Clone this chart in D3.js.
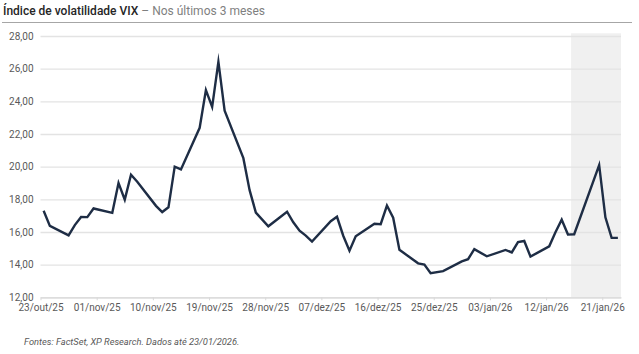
<!DOCTYPE html>
<html><head><meta charset="utf-8">
<script src="https://cdn.jsdelivr.net/npm/d3@7"></script>
<style>
html,body{margin:0;padding:0;background:#fff;}
svg{display:block;font-family:Roboto,"Noto Sans",sans-serif;}
</style></head>
<body><svg id="c" width="639" height="354"></svg>
<script>
const dates = ["2025-10-23","2025-10-24","2025-10-27","2025-10-28","2025-10-29","2025-10-30","2025-10-31",
"2025-11-03","2025-11-04","2025-11-05","2025-11-06","2025-11-07","2025-11-10","2025-11-11","2025-11-12","2025-11-13","2025-11-14",
"2025-11-17","2025-11-18","2025-11-19","2025-11-20","2025-11-21","2025-11-24","2025-11-25","2025-11-26","2025-11-28",
"2025-12-01","2025-12-02","2025-12-03","2025-12-04","2025-12-05","2025-12-08","2025-12-09","2025-12-10","2025-12-11","2025-12-12",
"2025-12-15","2025-12-16","2025-12-17","2025-12-18","2025-12-19","2025-12-22","2025-12-23","2025-12-24","2025-12-26",
"2025-12-29","2025-12-30","2025-12-31","2026-01-02","2026-01-05","2026-01-06","2026-01-07","2026-01-08","2026-01-09",
"2026-01-12","2026-01-13","2026-01-14","2026-01-15","2026-01-16","2026-01-20","2026-01-21","2026-01-22","2026-01-23"];
const vix = [17.30,16.37,15.79,16.42,16.92,16.91,17.44,
17.17,19.00,17.98,19.50,19.08,17.60,17.22,17.51,20.00,19.83,
22.38,24.69,23.66,26.42,23.43,20.52,18.56,17.19,16.35,
17.24,16.59,16.08,15.78,15.41,16.66,16.93,15.77,14.85,15.74,
16.50,16.48,17.62,16.87,14.91,14.08,14.00,13.47,13.60,
14.20,14.33,14.95,14.51,14.90,14.75,15.38,15.45,14.49,
15.12,15.98,16.75,15.84,15.86,20.09,16.90,15.64,15.64];
const tickDates = ["2025-10-23","2025-11-01","2025-11-10","2025-11-19","2025-11-28","2025-12-07","2025-12-16","2025-12-25","2026-01-03","2026-01-12","2026-01-21"];
const tickLabels = ["23/out/25","01/nov/25","10/nov/25","19/nov/25","28/nov/25","07/dez/25","16/dez/25","25/dez/25","03/jan/26","12/jan/26","21/jan/26"];
const yTicks = [12,14,16,18,20,22,24,26,28];
const highlight = ["2026-01-16","2026-01-24"];
const domainDates = ["2025-10-23","2026-01-24"];
const titleBold = "Índice de volatilidade VIX";
const titleRest = " – Nos últimos 3 meses";
const source = "Fontes: FactSet, XP Research. Dados até 23/01/2026.";

const P = d3.utcParse("%Y-%m-%d");
const svg = d3.select("#c");
const L = 40.5, R = 621, T = 36, B = 297.3;
const x = d3.scaleUtc().domain(domainDates.map(P)).range([L, R]);
const y = d3.scaleLinear().domain([12, 28]).range([B, T]);
const fmt = v => d3.format(".2f")(v).replace(".", ",");
const half = d => new Date(P(d).getTime() + 12*3600*1000);

// title
const tt = svg.append("text").attr("x", 3).attr("y", 15).attr("font-size", 12);
tt.append("tspan").attr("fill", "#262626").attr("font-weight", 500).text(titleBold);
tt.append("tspan").attr("fill", "#7f7f7f").text(titleRest);
svg.append("line").attr("x1", 2).attr("x2", 632).attr("y1", 22.5).attr("y2", 22.5)
  .attr("stroke", "#a6a6a6").attr("stroke-width", 1.2);

// highlight
svg.append("rect").attr("x", x(P(highlight[0]))).attr("y", 33.3)
  .attr("width", x(P(highlight[1])) - x(P(highlight[0]))).attr("height", B - 33.3)
  .attr("fill", "#f0f0f0");

// gridlines
const yAxis = d3.axisLeft(y).tickValues(yTicks).tickFormat(fmt).tickSize(-(R - L)).tickPadding(7);
const gy = svg.append("g").attr("transform", `translate(${L},0)`).call(yAxis);
gy.select(".domain").remove();
gy.selectAll(".tick line").attr("stroke", "#e3e3e3").attr("stroke-width", 1.3);
gy.selectAll(".tick text").attr("fill", "#595959").attr("font-size", 10).attr("font-family", "Roboto");

// x axis
const xAxis = d3.axisBottom(x).tickValues(tickDates.map(P)).tickFormat((d, i) => tickLabels[i]).tickSize(3).tickSizeOuter(0).tickPadding(4);
const gx = svg.append("g").attr("transform", `translate(0,${B})`).call(xAxis);
gx.select(".domain").attr("stroke", "#d9d9d9").attr("stroke-width", 1.2);
gx.selectAll(".tick line").attr("stroke", "#d9d9d9");
gx.selectAll(".tick text").attr("fill", "#595959").attr("font-size", 10).attr("font-family", "Roboto");

// line
const line = d3.line().x((d, i) => x(half(dates[i]))).y(d => y(d));
svg.append("path").datum(vix).attr("d", line).attr("fill", "none")
  .attr("stroke", "#1e2d45").attr("stroke-width", 2.4).attr("stroke-linejoin", "miter").attr("stroke-miterlimit", 10);

// source
svg.append("text").attr("x", 24).attr("y", 345).attr("font-size", 9.3).attr("font-style", "italic")
  .attr("fill", "#595959").text(source);
</script></body></html>
